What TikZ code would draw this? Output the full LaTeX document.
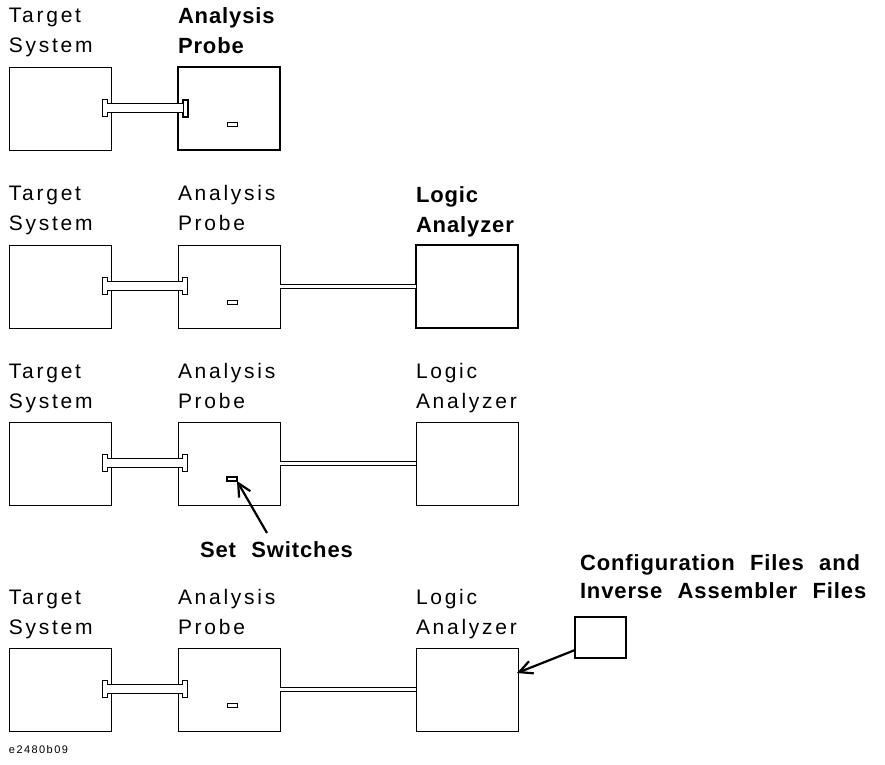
\documentclass[tikz,border=0pt]{standalone}
\usepackage{fontspec}
\setmainfont{Liberation Sans}
\newfontfamily\plainfont[LetterSpace=13]{Liberation Sans}
\newfontfamily\headfont[LetterSpace=4,WordSpace=2.2]{Liberation Sans}
\usetikzlibrary{arrows.meta}

\begin{document}
\begin{tikzpicture}[x=1pt,y=-1pt]
\tikzstyle{every node} = [inner sep=0pt, outer sep=0pt]
\tikzstyle{box} = [draw, line width=0.9pt, minimum width=102pt, minimum height=83pt, anchor=north west]
\tikzstyle{selbox} = [box, line width=2.4pt]
\tikzstyle{plug} = [draw, fill=white, line width=0.9pt, minimum width=5pt, minimum height=17pt]
\tikzstyle{selplug} = [plug, line width=2pt]
\tikzstyle{dipsw} = [draw, line width=0.9pt, minimum width=10pt, minimum height=4pt]
\tikzstyle{seldipsw} = [dipsw, line width=2pt]
\tikzstyle{tube} = [line width=0.9pt, double=white, double distance=8.5pt]
\tikzstyle{cable} = [line width=0.9pt, double=white, double distance=3.6pt]
\tikzstyle{lbl} = [anchor=base west, align=left, font=\plainfont\fontsize{21}{30}\selectfont]
\tikzstyle{sellbl} = [lbl, font=\headfont\bfseries\fontsize{22}{30}\selectfont]
\tikzstyle{pointer} = [line width=2.2pt, -{Straight Barb[length=13pt,width=13pt]}]
\path[use as bounding box] (0,0) rectangle (885,764);
% step 1: probe on target
\node[lbl] (tl1) at (9,52) {Target\\System};
\node[sellbl] (al1) at (178,53) {Analysis\\Probe};
\node[box] (ts1) at (9,67) {};
\node[selbox] (ap1) at (178,67) {};
\node[plug] (pl1) at (104.5,108) {};
\node[selplug] (pr1) at (185,108) {};
\node[dipsw] (sw1) at (232,124) {};
\draw[tube] (pl1.east) -- (pr1.west);
% step 2: logic analyzer on probe
\node[lbl] (tl2) at (9,230) {Target\\System};
\node[lbl] (al2) at (178,230) {Analysis\\Probe};
\node[sellbl] (ll2) at (416,232) {Logic\\Analyzer};
\node[box] (ts2) at (9,245) {};
\node[box] (ap2) at (178,245) {};
\node[selbox] (la2) at (416,245) {};
\node[plug] (pl2) at (104.5,286) {};
\node[plug] (pr2) at (185,286) {};
\node[dipsw] (sw2) at (232,302) {};
\draw[tube] (pl2.east) -- (pr2.west);
\draw[cable] (ap2.east) -- (la2.west);
% step 3: switches
\node[lbl] (tl3) at (9,408) {Target\\System};
\node[lbl] (al3) at (178,408) {Analysis\\Probe};
\node[lbl] (ll3) at (416,408) {Logic\\Analyzer};
\node[box] (ts3) at (9,422) {};
\node[box] (ap3) at (178,422) {};
\node[box] (la3) at (416,422) {};
\node[plug] (pl3) at (104.5,463) {};
\node[plug] (pr3) at (185,463) {};
\node[seldipsw] (sw3) at (232,479) {};
\draw[tube] (pl3.east) -- (pr3.west);
\draw[cable] (ap3.east) -- (la3.west);
\node[sellbl] (ss) at (200,557) {Set Switches};
\coordinate (ss_tail) at (267,533);
\draw[pointer] (ss_tail) -- (sw3.south east);
% step 4: configuration files
\node[lbl] (tl4) at (9,634) {Target\\System};
\node[lbl] (al4) at (178,634) {Analysis\\Probe};
\node[lbl] (ll4) at (416,634) {Logic\\Analyzer};
\node[box] (ts4) at (9,648) {};
\node[box] (ap4) at (178,648) {};
\node[box] (la4) at (416,648) {};
\node[plug] (pl4) at (104.5,689) {};
\node[plug] (pr4) at (185,689) {};
\node[dipsw] (sw4) at (232,705) {};
\draw[tube] (pl4.east) -- (pr4.west);
\draw[cable] (ap4.east) -- (la4.west);
\node[sellbl, font=\headfont\bfseries\fontsize{22}{28}\selectfont] (cfl) at (580,598) {Configuration Files and\\Inverse Assembler Files};
\node[draw, line width=2pt, minimum width=51pt, minimum height=41pt, anchor=north west] (cf) at (575,617) {};
\coordinate (cf_tail) at (575,650);
\coordinate (la4_in) at (517,673);
\draw[pointer] (cf_tail) -- (la4_in);
\node[anchor=base west, font=\plainfont\fontsize{11}{13}\selectfont] (fig) at (9,753) {e2480b09};
\end{tikzpicture}
\end{document}
